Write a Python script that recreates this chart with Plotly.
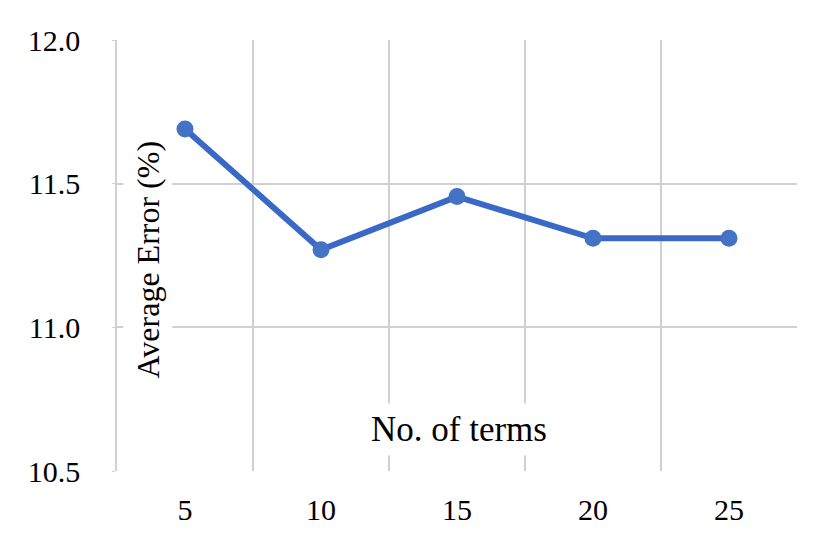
"""Average error vs number of terms, line chart with markers.
"""

import plotly.graph_objs as go  # type: ignore

# data
terms = ["5", "10", "15", "20", "25"]
avg_error = [11.69, 11.27, 11.455, 11.31, 11.31]
y_ticks = [10.5, 11.0, 11.5, 12.0]

FONT = "Liberation Serif"
GRID = "#d0d0d0"

fig = go.Figure()
fig.add_trace(go.Scatter(
    x=terms,
    y=avg_error,
    mode="lines+markers",
    line=dict(color="#3a68c6", width=6),
    marker=dict(color="#4472C4", size=17),
    showlegend=False,
))

fig.update_layout(
    xaxis=dict(
        type="category",
        range=[-0.5, 4.5],
        tickson="boundaries",
        showgrid=True,
        gridcolor=GRID,
        gridwidth=1.5,
        showline=False,
        zeroline=False,
        ticks="",
        ticklabelstandoff=18,
        tickfont=dict(family=FONT, size=30, color="black"),
    ),
    yaxis=dict(
        range=[10.5, 12.0],
        tickvals=y_ticks,
        tickformat=".1f",
        showgrid=True,
        gridcolor=GRID,
        gridwidth=1.5,
        showline=True,
        linecolor=GRID,
        linewidth=1.5,
        zeroline=False,
        ticks="outside",
        ticklen=3,
        tickcolor=GRID,
        ticklabelstandoff=26,
        tickfont=dict(family=FONT, size=30, color="black"),
    ),
)

# axis titles sit inside the plot on white boxes
fig.add_annotation(
    text="No. of terms", xref="paper", yref="paper",
    x=0.503, y=0.097, xanchor="center", yanchor="middle", showarrow=False,
    font=dict(family=FONT, size=35, color="black"),
    bgcolor="white", borderpad=6,
)
fig.add_annotation(
    text="Average Error (%)", xref="paper", yref="paper",
    x=0.045, y=0.49, xanchor="center", yanchor="middle", showarrow=False,
    textangle=-90,
    font=dict(family=FONT, size=32, color="black"),
    bgcolor="white", borderpad=6,
)

# page body adds an 8px offset, so margins are shifted to compensate
fig.update_layout(
    width=840,
    height=550,
    margin=dict(l=109, r=51, t=32, b=87),
    font=dict(family=FONT, color="black"),
    plot_bgcolor="white",
    paper_bgcolor="white",
)

fig.write_html("out.html")
